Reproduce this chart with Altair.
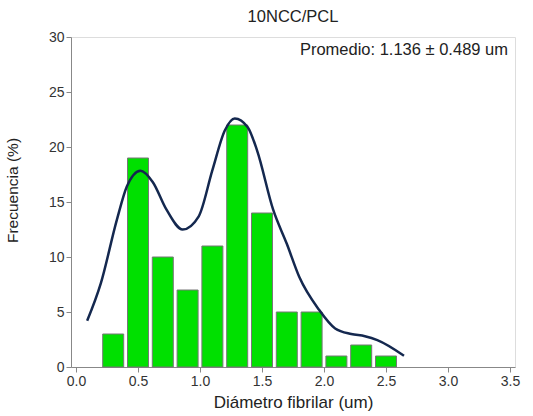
import altair as alt
import pandas as pd

# Histogram data
bin_centers = [0.3, 0.5, 0.7, 0.9, 1.1, 1.3, 1.5, 1.7, 1.9, 2.1, 2.3, 2.5]
frequencies = [3, 19, 10, 7, 11, 22, 14, 5, 5, 1, 2, 1]

# Density curve
curve_x = [0.09, 0.20, 0.33, 0.41, 0.52, 0.62, 0.73, 0.86, 0.99, 1.10, 1.20, 1.28,
           1.385, 1.46, 1.59, 1.70, 1.80, 1.96, 2.09, 2.22, 2.33, 2.43, 2.645]
curve_y = [4.2, 7.6, 13.4, 16.4, 17.85, 16.8, 14.3, 12.5, 13.7, 17.9, 21.5, 22.6,
           21.8, 19.7, 14.3, 11.2, 8.2, 5.2, 3.5, 3.0, 2.8, 2.45, 1.03]

x_ticks = [i * 0.25 for i in range(15)]
y_ticks = [i * 2.5 for i in range(13)]

title_text = "10NCC/PCL"
note_text = "Promedio: 1.136 \u00b1 0.489 um"
x_title = "Di\u00e1metro fibrilar (um)"
y_title = "Frecuencia (%)"

FONT = "Liberation Sans"

bars_df = pd.DataFrame({"x": bin_centers, "f": frequencies})
curve_df = pd.DataFrame({"x": curve_x, "y": curve_y})
note_df = pd.DataFrame({"t": [note_text]})

x_scale = alt.Scale(domain=[0, 3.5], nice=False, zero=False)
y_scale = alt.Scale(domain=[0, 30], nice=False)

x_axis = alt.Axis(
    values=x_ticks,
    labelExpr="abs(datum.value*2 - round(datum.value*2)) < 0.01 ? format(datum.value, '.1f') : ''",
    tickSize={"condition": {"test": "abs(datum.value*2 - round(datum.value*2)) < 0.01", "value": 5}, "value": 3},
    title=x_title, grid=False, domainColor="#888888", tickColor="#888888",
    labelColor="#333333", labelFontSize=14, labelFont=FONT, labelPadding=2,
    titleFont=FONT, titleFontSize=17, titleFontWeight="normal", titleColor="#222222",
    titlePadding=6,
)
y_axis = alt.Axis(
    values=y_ticks,
    labelExpr="abs(datum.value/5 - round(datum.value/5)) < 0.01 ? format(datum.value, 'd') : ''",
    tickSize={"condition": {"test": "abs(datum.value/5 - round(datum.value/5)) < 0.01", "value": 5}, "value": 3},
    title=y_title, grid=False, domainColor="#888888", tickColor="#888888",
    labelColor="#333333", labelFontSize=14, labelFont=FONT, labelPadding=2,
    titleFont=FONT, titleFontSize=15.5, titleFontWeight="normal", titleColor="#222222",
    titlePadding=28, titleY=153,
)

bars = alt.Chart(bars_df).mark_bar(
    size=21, color="#00E000", stroke="#777777", strokeWidth=1
).encode(
    x=alt.X("x:Q", scale=x_scale, axis=x_axis),
    y=alt.Y("f:Q", scale=y_scale, axis=y_axis),
)

curve = alt.Chart(curve_df).mark_line(
    color="#14284F", strokeWidth=2.5, interpolate="monotone"
).encode(
    x=alt.X("x:Q", scale=x_scale),
    y=alt.Y("y:Q", scale=y_scale),
)

note = alt.Chart(note_df).mark_text(
    align="right", baseline="middle", font=FONT, fontSize=16.5, color="#222222"
).encode(
    x=alt.value(437), y=alt.value(13), text="t:N"
)

chart = alt.layer(bars, curve, note).properties(
    width=444, height=330,
    title=alt.TitleParams(title_text, font=FONT, fontSize=16.5, fontWeight="normal",
                          color="#222222", anchor="middle", offset=5),
    autosize=alt.AutoSizeParams(type="none"),
    padding={"left": 71, "top": 37, "right": 18, "bottom": 49},
).configure_view(stroke="#888888", strokeWidth=1).configure(background="white")

chart.save("out.html", embed_options={"renderer": "svg", "actions": False})
